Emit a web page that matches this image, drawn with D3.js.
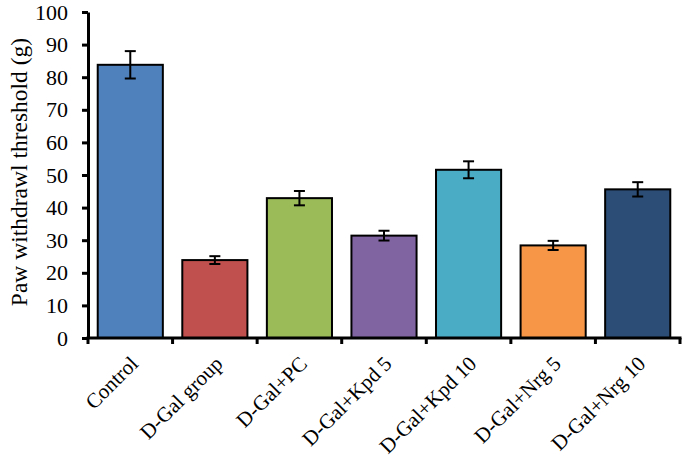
<!DOCTYPE html>
<html>
<head>
<meta charset="utf-8">
<script src="https://cdn.jsdelivr.net/npm/d3@7"></script>
<style>
  html, body { margin: 0; padding: 0; background: #fff; }
  svg { display: block; }
</style>
</head>
<body>
<svg id="chart" width="685" height="457"></svg>
<script>
const categories = ["Control", "D-Gal group", "D-Gal+PC", "D-Gal+Kpd 5", "D-Gal+Kpd 10", "D-Gal+Nrg 5", "D-Gal+Nrg 10"];
const values = [83.8, 23.9, 42.9, 31.4, 51.6, 28.4, 45.6];
const errors = [4.2, 1.2, 2.2, 1.5, 2.6, 1.4, 2.2];
const colors = ["#4F81BD", "#C0504D", "#9BBB59", "#8064A2", "#4BACC6", "#F79646", "#2C4D75"];
const yTicks = [0, 10, 20, 30, 40, 50, 60, 70, 80, 90, 100];
const yTitle = "Paw withdrawl threshold (g)";

(function () {
const svg = d3.select("#chart");
const mL = 88, mR = 680, mT = 12, mB = 338;
const font = "'Liberation Serif', 'Times New Roman', serif";

const x = d3.scaleBand().domain(categories).range([mL, mR]).paddingInner(0.23).paddingOuter(0.115);
const y = d3.scaleLinear().domain([0, 100]).range([mB, mT]);

// bars
svg.append("g").selectAll("rect").data(categories).join("rect")
  .attr("x", d => x(d))
  .attr("y", (d, i) => y(values[i]))
  .attr("width", x.bandwidth())
  .attr("height", (d, i) => y(0) - y(values[i]))
  .attr("fill", (d, i) => colors[i])
  .attr("stroke", "#000")
  .attr("stroke-width", 2);

// error bars
const eg = svg.append("g").attr("stroke", "#000").attr("stroke-width", 2);
categories.forEach((c, i) => {
  const cx = x(c) + x.bandwidth() / 2;
  const hi = y(values[i] + errors[i]), lo = y(values[i] - errors[i]);
  eg.append("line").attr("x1", cx).attr("x2", cx).attr("y1", hi).attr("y2", lo);
  eg.append("line").attr("x1", cx - 5.5).attr("x2", cx + 5.5).attr("y1", hi).attr("y2", hi);
  eg.append("line").attr("x1", cx - 5.5).attr("x2", cx + 5.5).attr("y1", lo).attr("y2", lo);
});

// y axis
const yAxis = svg.append("g").attr("transform", `translate(${mL},0)`)
  .call(d3.axisLeft(y).tickValues(yTicks).tickSize(6).tickPadding(14).tickSizeOuter(0));
yAxis.select(".domain").attr("stroke", "#000").attr("stroke-width", 3);
yAxis.selectAll(".tick line").attr("stroke", "#000").attr("stroke-width", 3);
yAxis.selectAll(".tick text").attr("font-family", font).attr("font-size", 22).attr("fill", "#000");

// x axis with ticks at category boundaries
const xg = svg.append("g");
xg.append("line").attr("x1", mL - 1.5).attr("x2", mR + 1.5).attr("y1", mB).attr("y2", mB)
  .attr("stroke", "#000").attr("stroke-width", 3);
const step = x.step();
const bounds = d3.range(categories.length + 1).map(i => mL + i * step);
xg.selectAll("line.bt").data(bounds).join("line").attr("class", "bt")
  .attr("x1", d => d).attr("x2", d => d).attr("y1", mB).attr("y2", mB + 6)
  .attr("stroke", "#000").attr("stroke-width", 3);

xg.selectAll("text").data(categories).join("text")
  .attr("transform", d => `translate(${x(d) + x.bandwidth() / 2 + 9},${mB + 27}) rotate(-45)`)
  .attr("text-anchor", "end")
  .attr("font-family", font).attr("font-size", 21).attr("fill", "#000")
  .text(d => d);

// y title
svg.append("text")
  .attr("transform", `translate(27,172) rotate(-90)`)
  .attr("text-anchor", "middle")
  .attr("font-family", font).attr("font-size", 23.5).attr("fill", "#000")
  .text(yTitle);
})();
</script>
</body>
</html>
